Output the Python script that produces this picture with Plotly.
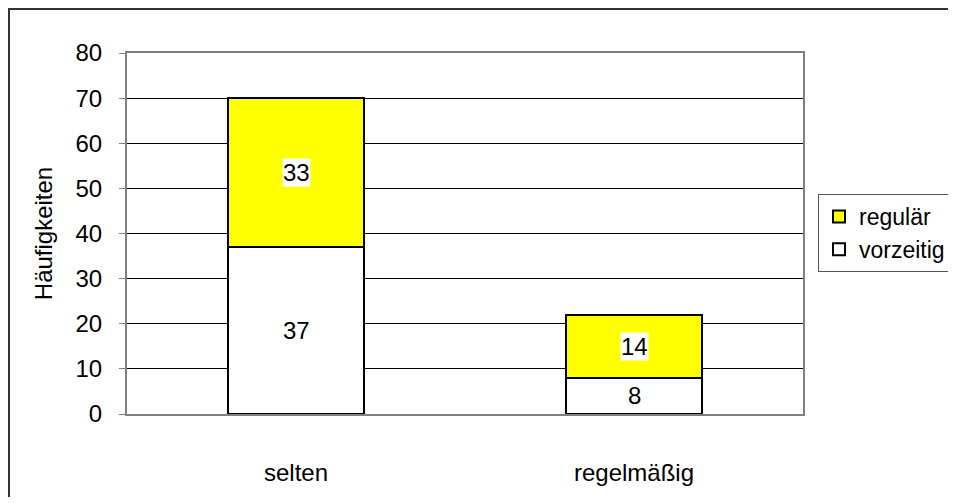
import plotly.graph_objects as go

categories = ["selten", "regelmäßig"]
vorzeitig = [37, 8]
regulaer = [33, 14]
y_ticks = [0, 10, 20, 30, 40, 50, 60, 70, 80]

W, H = 940, 489
L, R, T, B = 119, 145, 45, 83
pw, ph = W - L - R, H - T - B
FS = 24

fig = go.Figure()
fig.add_trace(go.Bar(x=categories, y=vorzeitig, name="vorzeitig", width=0.4,
                     marker=dict(color="white", line=dict(color="black", width=2))))
fig.add_trace(go.Bar(x=categories, y=regulaer, name="regulär", width=0.4,
                     marker=dict(color="#FFFF00", line=dict(color="black", width=2))))

for i, c in enumerate(categories):
    fig.add_annotation(x=c, y=vorzeitig[i] / 2, text=str(vorzeitig[i]), showarrow=False,
                       bgcolor="white", font=dict(size=FS, color="black", family="Arial"), borderpad=0)
    fig.add_annotation(x=c, y=vorzeitig[i] + regulaer[i] / 2, text=str(regulaer[i]), showarrow=False,
                       bgcolor="white", font=dict(size=FS, color="black", family="Arial"), borderpad=0)

# outer chart border: only left and top edges are visible in the window
fig.add_shape(type="line", xref="paper", yref="paper",
              x0=(-L + 1) / pw, x1=(W - L) / pw, y0=(H - B - 1) / ph, y1=(H - B - 1) / ph,
              line=dict(color="#333333", width=2), layer="below")
fig.add_shape(type="line", xref="paper", yref="paper",
              x0=(-L + 1) / pw, x1=(-L + 1) / pw, y0=(-B) / ph, y1=(H - B) / ph,
              line=dict(color="#333333", width=2), layer="below")

fig.update_layout(
    width=W, height=H, barmode="stack",
    margin=dict(l=L, r=R, t=T, b=B, autoexpand=False),
    plot_bgcolor="white", paper_bgcolor="white",
    font=dict(family="Arial", size=FS, color="black"),
    showlegend=True,
    legend=dict(traceorder="reversed", x=(810 - L) / pw, y=(H - B - 186) / ph,
                xanchor="left", yanchor="top", bordercolor="#555555", borderwidth=1,
                font=dict(size=23), itemwidth=30, tracegroupgap=0),
    bargap=0.6,
)
fig.update_yaxes(range=[0, 80], tickvals=y_ticks, showgrid=True, gridcolor="black", gridwidth=1,
                 showline=True, linecolor="#808080", linewidth=2, mirror=True,
                 ticks="outside", ticklen=6, tickcolor="#808080", ticklabelstandoff=12,
                 automargin=False,
                 title=dict(text="Häufigkeiten", font=dict(size=FS), standoff=16), zeroline=False)
fig.update_xaxes(showline=True, linecolor="#808080", linewidth=2, mirror=True, automargin=False,
                 ticks="outside", ticklen=36, tickcolor="rgba(0,0,0,0)")

fig.write_html("out.html")
